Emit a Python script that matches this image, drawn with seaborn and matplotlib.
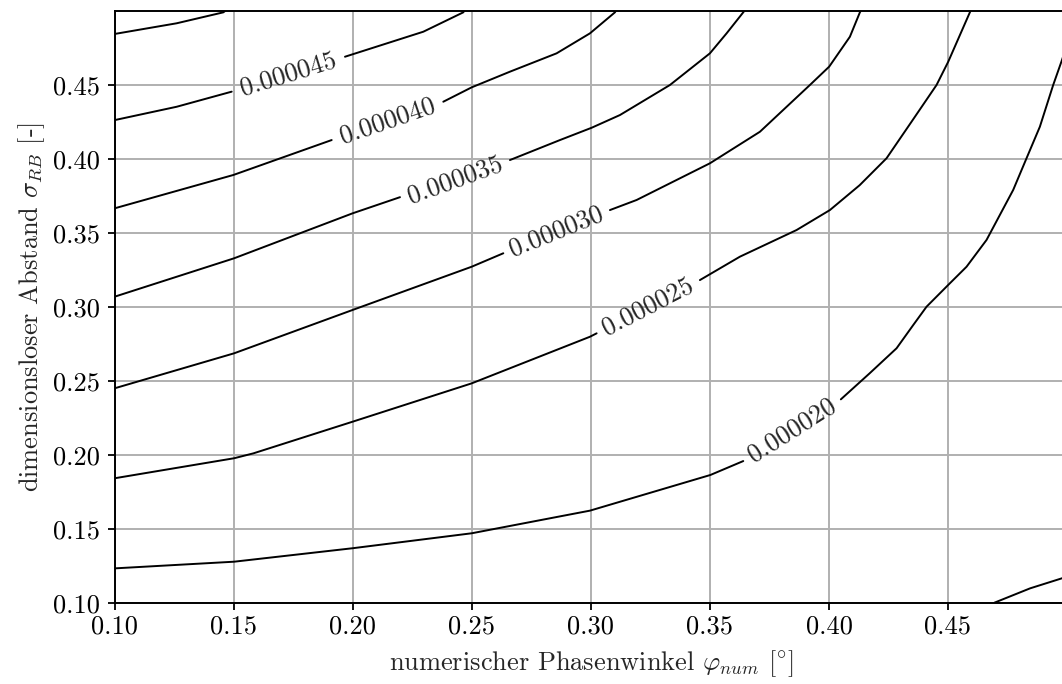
import pandas as pd
import seaborn as sns
import matplotlib.pyplot as plt
import matplotlib.ticker as mtick

#%% contour lines (x = phase angle, y = sigma_RB)
# each labelled line is split in two pieces around its label
c50_x = [0.100, 0.1260, 0.1456, 0.1465]
c50_y = [0.4843, 0.4915, 0.4989, 0.5000]

c45_x_a = [0.100, 0.1260, 0.1491]
c45_y_a = [0.4261, 0.4351, 0.4453]
c45_x_b = [0.1967, 0.2296, 0.2464, 0.2468]
c45_y_b = [0.4689, 0.4858, 0.4989, 0.5000]

c40_x_a = [0.100, 0.1498, 0.1911]
c40_y_a = [0.3665, 0.3890, 0.4126]
c40_x_b = [0.2380, 0.2499, 0.2660, 0.2856, 0.2996, 0.3101, 0.3105]
c40_y_b = [0.4385, 0.4482, 0.4588, 0.4712, 0.4847, 0.4989, 0.5000]

c35_x_a = [0.100, 0.1501, 0.1999, 0.2198]
c35_y_a = [0.3068, 0.3327, 0.3631, 0.3740]
c35_x_b = [0.2660, 0.2870, 0.3003, 0.3122, 0.3332, 0.3500, 0.3570, 0.3640, 0.3645]
c35_y_b = [0.3991, 0.4126, 0.4209, 0.4295, 0.4498, 0.4712, 0.4847, 0.4989, 0.5000]

c30_x_a = [0.100, 0.1501, 0.1999, 0.2499, 0.2632]
c30_y_a = [0.2449, 0.2685, 0.2978, 0.3270, 0.3361]
c30_x_b = [0.3080, 0.3192, 0.3500, 0.3710, 0.3920, 0.4001, 0.4088, 0.4130, 0.4134]
c30_y_b = [0.3653, 0.3721, 0.3969, 0.4182, 0.4498, 0.4622, 0.4824, 0.4989, 0.5000]

c25_x_a = [0.100, 0.1501, 0.1582, 0.1999, 0.2499, 0.2996, 0.3024]
c25_y_a = [0.1841, 0.1976, 0.2009, 0.2223, 0.2482, 0.2797, 0.2820]
c25_x_b = [0.3458, 0.3626, 0.3864, 0.4004, 0.4129, 0.4242, 0.4347, 0.4452, 0.4501, 0.4592, 0.4595]
c25_y_b = [0.3180, 0.3338, 0.3518, 0.3653, 0.3821, 0.4003, 0.4250, 0.4498, 0.4655, 0.4989, 0.5000]

c20_x_a = [0.100, 0.1501, 0.1999, 0.2499, 0.2996, 0.3502, 0.3640]
c20_y_a = [0.1232, 0.1277, 0.1368, 0.1469, 0.1622, 0.1863, 0.1957]
c20_x_b = [0.4050, 0.4171, 0.4284, 0.4354, 0.4410, 0.4501, 0.4578, 0.4662, 0.4774,
           0.4830, 0.4886, 0.4942, 0.4979, 0.5010]
c20_y_b = [0.2374, 0.2550, 0.2719, 0.2876, 0.3000, 0.3147, 0.3270, 0.3451, 0.3789,
           0.4003, 0.4216, 0.4498, 0.4667, 0.4820]

c15_x = [0.4695, 0.4845, 0.4979, 0.5010]
c15_y = [0.1000, 0.1097, 0.1165, 0.1185]

# contour labels
label_text = ['0.000045', '0.000040', '0.000035', '0.000030', '0.000025', '0.000020']

# axis ticks
x_ticks = [0.10, 0.15, 0.20, 0.25, 0.30, 0.35, 0.40, 0.45]
y_ticks = [0.10, 0.15, 0.20, 0.25, 0.30, 0.35, 0.40, 0.45]

#%% long-form table for seaborn
pieces = [
    ('c50', c50_x, c50_y),
    ('c45a', c45_x_a, c45_y_a), ('c45b', c45_x_b, c45_y_b),
    ('c40a', c40_x_a, c40_y_a), ('c40b', c40_x_b, c40_y_b),
    ('c35a', c35_x_a, c35_y_a), ('c35b', c35_x_b, c35_y_b),
    ('c30a', c30_x_a, c30_y_a), ('c30b', c30_x_b, c30_y_b),
    ('c25a', c25_x_a, c25_y_a), ('c25b', c25_x_b, c25_y_b),
    ('c20a', c20_x_a, c20_y_a), ('c20b', c20_x_b, c20_y_b),
    ('c15', c15_x, c15_y),
]
df = pd.concat([pd.DataFrame({'x': xs, 'y': ys, 'seg': name}) for name, xs, ys in pieces],
               ignore_index=True)

#%% style
sns.set_style('ticks')
plt.rcParams['font.family'] = 'serif'
plt.rcParams['font.serif'] = ['cmr10']
plt.rcParams['mathtext.fontset'] = 'cm'
plt.rcParams['axes.formatter.use_mathtext'] = True

fig = plt.figure(figsize=(10.62, 6.84), dpi=100)
ax = fig.add_axes([114.8 / 1062, (684 - 602.7) / 684, (1067 - 114.8) / 1062, (602.7 - 10.7) / 684])

sns.lineplot(data=df, x='x', y='y', units='seg', estimator=None, sort=False,
             color='black', linewidth=1.4, ax=ax, zorder=3)

# labels sit in the gaps of each line
label_pos = [(0.1729, 0.4571, 17.2), (0.2145, 0.4255, 18.9), (0.2429, 0.3856, 20.0),
             (0.2856, 0.3507, 22.1), (0.3241, 0.3000, 27.3), (0.3845, 0.2166, 32.3)]
for txt, (lx, ly, rot) in zip(label_text, label_pos):
    ax.text(lx, ly, txt, ha='center', va='center', rotation=rot,
            rotation_mode='anchor', fontsize=19, zorder=4)

ax.set_xlim(0.1, 0.5)
ax.set_ylim(0.1, 0.5)
ax.set_xticks(x_ticks)
ax.set_yticks(y_ticks)
ax.xaxis.set_major_formatter(mtick.FormatStrFormatter('%.2f'))
ax.yaxis.set_major_formatter(mtick.FormatStrFormatter('%.2f'))
ax.grid(True, color='#b0b0b0', linewidth=1.4)
ax.set_axisbelow(True)
ax.tick_params(axis='both', labelsize=19, direction='out', length=5, width=1.3, colors='black')
ax.tick_params(axis='y', pad=6)
for sp in ax.spines.values():
    sp.set_linewidth(1.4)
    sp.set_color('black')

ax.set_xlabel(r'numerischer Phasenwinkel $\varphi_{num}$ [$^{\circ}$]', fontsize=19, labelpad=7)
ax.set_ylabel(r'dimensionsloser Abstand $\sigma_{RB}$ [-]', fontsize=19)

fig.savefig('out.png', dpi=100)
